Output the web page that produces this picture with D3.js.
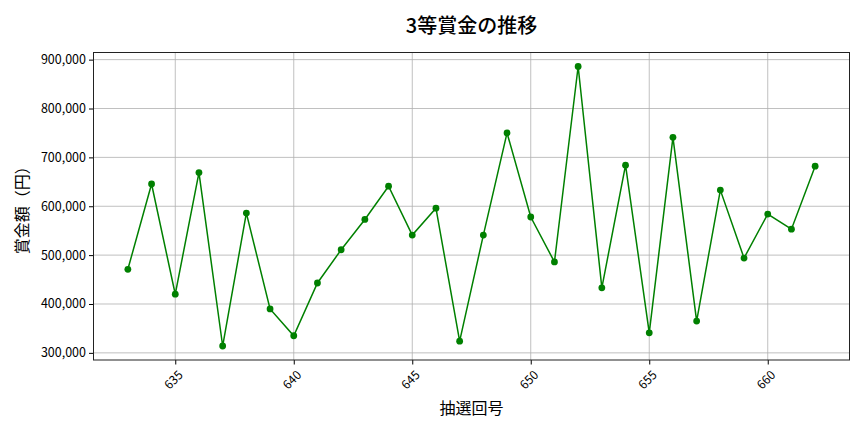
<!DOCTYPE html>
<html lang="ja">
<head>
<meta charset="UTF-8">
<title>3等賞金の推移</title>
<script src="https://d3js.org/d3.v7.min.js"></script>
<style>
  body { margin: 0; background: #fff; }
  text { font-family: "Noto Sans CJK JP", "Noto Sans", sans-serif; }
</style>
</head>
<body>
<script>
// 抽選回号
var draws = [633, 634, 635, 636, 637, 638, 639, 640, 641, 642,
             643, 644, 645, 646, 647, 648, 649, 650, 651, 652,
             653, 654, 655, 656, 657, 658, 659, 660, 661, 662];
// 3等賞金 (円)
var prizes = [471000, 645500, 420000, 669000, 314000, 586000, 390000, 335000, 443000, 511000,
              573000, 641000, 541000, 596000, 324000, 541000, 750000, 578000, 486000, 886000,
              433000, 684000, 341000, 741000, 365000, 633000, 494000, 584000, 553000, 682000];
var xTicks = [635, 640, 645, 650, 655, 660];
var yTicks = [300000, 400000, 500000, 600000, 700000, 800000, 900000];

var width = 864, height = 432;
var margin = {left: 93.5, right: 14.5, top: 52.5, bottom: 72};

var svg = d3.select("body").append("svg")
    .attr("width", width)
    .attr("height", height);

var xMin = d3.min(draws), xMax = d3.max(draws);
var xPad = (xMax - xMin) * 0.05;
var yMin = d3.min(prizes), yMax = d3.max(prizes);
var yPad = (yMax - yMin) * 0.05;

var x = d3.scaleLinear()
    .domain([xMin - xPad, xMax + xPad])
    .range([margin.left, width - margin.right]);
var y = d3.scaleLinear()
    .domain([yMin - yPad, yMax + yPad])
    .range([height - margin.bottom, margin.top]);

// grid
svg.append("g")
    .selectAll("line")
    .data(xTicks)
    .join("line")
    .attr("x1", d => x(d)).attr("x2", d => x(d))
    .attr("y1", margin.top).attr("y2", height - margin.bottom)
    .attr("stroke", "#b0b0b0").attr("stroke-width", 0.8);
svg.append("g")
    .selectAll("line")
    .data(yTicks)
    .join("line")
    .attr("x1", margin.left).attr("x2", width - margin.right)
    .attr("y1", d => y(d)).attr("y2", d => y(d))
    .attr("stroke", "#b0b0b0").attr("stroke-width", 0.8);

// axes
var xAxis = svg.append("g")
    .attr("transform", "translate(0," + (height - margin.bottom) + ")")
    .call(d3.axisBottom(x).tickValues(xTicks).tickSize(4.5).tickSizeOuter(0));
xAxis.select(".domain").remove();
xAxis.selectAll("text")
    .attr("font-size", 12)
    .attr("fill", "#000")
    .attr("text-anchor", "middle")
    .attr("dy", null)
    .attr("y", null)
    .attr("dominant-baseline", "central")
    .attr("transform", "translate(-3,19) rotate(-45)");

var yAxis = svg.append("g")
    .attr("transform", "translate(" + margin.left + ",0)")
    .call(d3.axisLeft(y).tickValues(yTicks).tickSize(4.5).tickSizeOuter(0)
        .tickFormat(d3.format(",")));
yAxis.select(".domain").remove();
yAxis.selectAll("text")
    .attr("font-size", 12.5)
    .attr("fill", "#000");

// frame
svg.append("rect")
    .attr("x", margin.left).attr("y", margin.top)
    .attr("width", width - margin.left - margin.right)
    .attr("height", height - margin.top - margin.bottom)
    .attr("fill", "none")
    .attr("stroke", "#222")
    .attr("stroke-width", 1);

// line + markers
var line = d3.line()
    .x((d, i) => x(draws[i]))
    .y(d => y(d));
svg.append("path")
    .datum(prizes)
    .attr("d", line)
    .attr("fill", "none")
    .attr("stroke", "#008000")
    .attr("stroke-width", 1.5);
svg.append("g")
    .selectAll("circle")
    .data(prizes)
    .join("circle")
    .attr("cx", (d, i) => x(draws[i]))
    .attr("cy", d => y(d))
    .attr("r", 3.4)
    .attr("fill", "#008000");

// labels
svg.append("text")
    .attr("x", (margin.left + width - margin.right) / 2)
    .attr("y", 33)
    .attr("text-anchor", "middle")
    .attr("font-size", 20)
    .attr("font-weight", 500)
    .text("3等賞金の推移");
svg.append("text")
    .attr("x", (margin.left + width - margin.right) / 2)
    .attr("y", 414)
    .attr("text-anchor", "middle")
    .attr("font-size", 16)
    .text("抽選回号");
svg.append("text")
    .attr("transform", "translate(28," + ((margin.top + height - margin.bottom) / 2) + ") rotate(-90)")
    .attr("text-anchor", "middle")
    .attr("font-size", 16)
    .text("賞金額（円）");
</script>
</body>
</html>
